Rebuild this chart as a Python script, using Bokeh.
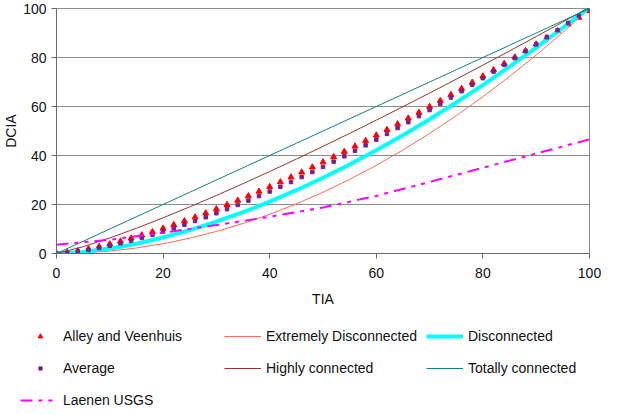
from bokeh.plotting import figure
from bokeh.layouts import column
from bokeh.models import Range1d, FixedTicker, Legend, LegendItem
from bokeh.embed import file_html
from bokeh.resources import INLINE

FONT = "Liberation Sans"
FONT_SIZE = "14px"

# TIA values for the two marker series (every 2 %)
tia_markers = [0, 2, 4, 6, 8, 10, 12, 14, 16, 18, 20, 22, 24, 26, 28, 30, 32, 34, 36, 38,
               40, 42, 44, 46, 48, 50, 52, 54, 56, 58, 60, 62, 64, 66, 68, 70, 72, 74, 76, 78,
               80, 82, 84, 86, 88, 90, 92, 94, 96, 98, 100]
alley_veenhuis = [0, 0.40, 1.06, 1.88, 2.82, 3.86, 4.99, 6.20, 7.48, 8.83, 10.25, 11.72, 13.25,
                  14.84, 16.47, 18.15, 19.88, 21.66, 23.47, 25.32, 27.23, 29.17, 31.15, 33.16,
                  35.21, 37.30, 39.42, 41.57, 43.76, 45.98, 48.23, 50.51, 52.82, 55.16, 57.53,
                  59.94, 62.36, 64.82, 67.29, 69.82, 72.34, 74.91, 77.51, 80.12, 82.75, 85.42,
                  88.11, 90.83, 93.56, 96.31, 99.10]
average = [0, 0.28, 0.80, 1.47, 2.26, 3.16, 4.16, 5.24, 6.40, 7.64, 8.94, 10.32, 11.76, 13.26,
           14.82, 16.43, 18.10, 19.83, 21.60, 23.42, 25.30, 27.22, 29.19, 31.20, 33.26, 35.36,
           37.50, 39.68, 41.91, 44.17, 46.48, 48.82, 51.20, 53.62, 56.07, 58.57, 61.09, 63.66,
           66.25, 68.89, 71.55, 74.25, 76.99, 79.75, 82.55, 85.38, 88.25, 91.14, 94.06, 97.01,
           100.0]

# TIA values for the connection curves (every 5 %)
tia_lines = [0, 5, 10, 15, 20, 25, 30, 35, 40, 45, 50, 55, 60, 65, 70, 75, 80, 85, 90, 95, 100]
extremely_disconnected = [0, 0.25, 1.00, 2.25, 4.00, 6.25, 9.00, 12.25, 16.00, 20.25, 25.00,
                          30.25, 36.00, 42.25, 49.00, 56.25, 64.00, 72.25, 81.00, 90.25, 100.0]
disconnected = [0, 0.62, 2.00, 3.99, 6.52, 9.52, 12.97, 16.86, 21.16, 25.84, 30.91, 36.34,
                42.15, 48.28, 54.78, 61.63, 68.75, 76.25, 84.02, 92.12, 100.5]
highly_connected = [0, 2.76, 6.34, 10.31, 14.56, 19.04, 23.69, 28.51, 33.47, 38.54, 43.73,
                    49.03, 54.44, 59.92, 65.48, 71.14, 76.87, 82.68, 88.55, 94.48, 100.5]
totally_connected = [0, 5, 10, 15, 20, 25, 30, 35, 40, 45, 50, 55, 60, 65, 70, 75, 80, 85, 90,
                     95, 100]

# Laenen (USGS) relation
tia_laenen = [0, 10, 20, 30, 40, 50, 60, 70, 80, 90, 100]
laenen_usgs = [3.6, 5.6, 8.5, 11.6, 15.0, 18.8, 23.5, 29.2, 35.0, 40.8, 46.6]

axis_ticks = [0, 20, 40, 60, 80, 100]

# series styles, shared by the chart and its legend
STYLE = {
    "Alley and Veenhuis": dict(kind="marker", marker="triangle", color="#ff0000"),
    "Extremely Disconnected": dict(kind="line", color="#ff6a55", width=1, dash="solid"),
    "Disconnected": dict(kind="line", color="#00ffff", width=4, dash="solid"),
    "Average": dict(kind="marker", marker="square", color="#7a1f8c"),
    "Highly connected": dict(kind="line", color="#993333", width=1, dash="solid"),
    "Totally connected": dict(kind="line", color="#118080", width=1, dash="solid"),
    "Laenen USGS": dict(kind="line", color="#ff00ff", width=2, dash="12 6 4 6 4 6"),
}

p = figure(width=617, height=310, output_backend="svg", toolbar_location=None,
           x_range=Range1d(0, 100), y_range=Range1d(0, 100),
           min_border_left=55, min_border_right=28, min_border_top=8, min_border_bottom=57,
           background_fill_color="white", border_fill_color="white")


def draw_line(fig, xs, ys, name):
    s = STYLE[name]
    return fig.line(xs, ys, line_color=s["color"], line_width=s["width"], line_dash=s["dash"])


def draw_marker(fig, xs, ys, name, size):
    s = STYLE[name]
    return fig.scatter(xs, ys, marker=s["marker"], size=size,
                       fill_color=s["color"], line_color=s["color"])


draw_marker(p, tia_markers, alley_veenhuis, "Alley and Veenhuis", 6)
draw_line(p, tia_lines, extremely_disconnected, "Extremely Disconnected")
draw_line(p, tia_lines, disconnected, "Disconnected")
draw_marker(p, tia_markers, average, "Average", 3.5)
draw_line(p, tia_lines, highly_connected, "Highly connected")
draw_line(p, tia_lines, totally_connected, "Totally connected")
draw_line(p, tia_laenen, laenen_usgs, "Laenen USGS")

# axes
for ax in (p.xaxis, p.yaxis):
    ax.ticker = FixedTicker(ticks=axis_ticks)
    ax.axis_line_color = "#6b6b6b"
    ax.major_tick_line_color = "#6b6b6b"
    ax.major_tick_in = 0
    ax.major_tick_out = 5
    ax.minor_tick_line_color = None
    ax.major_label_text_font = FONT
    ax.major_label_text_font_size = FONT_SIZE
    ax.major_label_text_color = "#111111"
    ax.axis_label_text_font = FONT
    ax.axis_label_text_font_size = FONT_SIZE
    ax.axis_label_text_font_style = "normal"
    ax.axis_label_text_color = "#111111"

p.xaxis.axis_label = "TIA"
p.yaxis.axis_label = "DCIA"
p.xaxis.major_label_standoff = 9
p.xaxis.axis_label_standoff = 10
p.yaxis.major_label_standoff = 5
p.yaxis.axis_label_standoff = 1

p.xgrid.visible = False
p.ygrid.grid_line_color = "#8c8c8c"
p.outline_line_color = "#8c8c8c"

# legend strip below the chart
lg_fig = figure(width=617, height=104, output_backend="svg", toolbar_location=None,
                x_range=Range1d(0, 1), y_range=Range1d(0, 1),
                x_axis_type=None, y_axis_type=None, min_border=0,
                outline_line_color=None, background_fill_color="white",
                border_fill_color="white")
lg_fig.xgrid.visible = False
lg_fig.ygrid.visible = False
if "frame_align" in lg_fig.properties():
    lg_fig.frame_align = False
    p.frame_align = False


def legend_item(name):
    # key glyph sits outside the strip's visible range; only the legend shows it
    s = STYLE[name]
    if s["kind"] == "marker":
        r = lg_fig.scatter([-5], [-5], marker=s["marker"], size=5,
                           fill_color=s["color"], line_color=s["color"])
    else:
        r = lg_fig.line([-5, -4], [-5, -5], line_color=s["color"], line_width=s["width"],
                        line_dash=s["dash"])
    return LegendItem(label=name, renderers=[r])


def add_legend(names, x, y, key_width=37, standoff=5):
    lg = Legend(items=[legend_item(n) for n in names], location=(x, y),
                orientation="vertical",
                glyph_width=key_width, glyph_height=20, label_height=20,
                label_standoff=standoff, spacing=12, padding=0, margin=0,
                border_line_alpha=0, background_fill_alpha=0,
                label_text_font=FONT, label_text_font_size=FONT_SIZE,
                label_text_color="#111111")
    lg_fig.add_layout(lg)


# first column: narrow key boxes keep the marker keys small
add_legend(["Alley and Veenhuis"], 34, 68, key_width=12, standoff=17)
add_legend(["Average"], 36, 36, key_width=8, standoff=19)
add_legend(["Laenen USGS"], 20, 4, standoff=6)
add_legend(["Extremely Disconnected", "Highly connected"], 224, 36)
add_legend(["Disconnected", "Totally connected"], 426, 36)

layout = column(p, lg_fig, spacing=0)
open("out.html", "w").write(file_html(layout, INLINE))
